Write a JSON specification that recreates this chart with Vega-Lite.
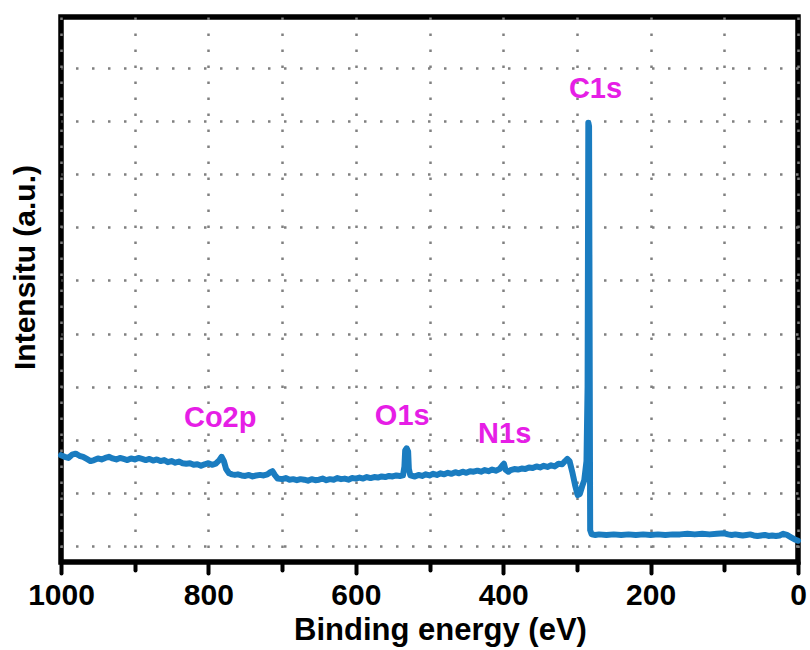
{
  "$schema": "https://vega.github.io/schema/vega-lite/v6.json",
  "width": 737,
  "height": 545,
  "autosize": {"type": "none"},
  "padding": {"left": 61, "top": 17, "right": 12, "bottom": 88},
  "background": "white",
  "config": {
    "view": {"stroke": "black", "strokeWidth": 5.5},
    "font": "Liberation Sans"
  },
  "datasets": {
    "spec": [
      {"e":1000,"i":1.71},{"e":995,"i":1.68},{"e":990,"i":1.66},{"e":985,"i":1.72},{"e":980,"i":1.74},{"e":975,"i":1.70},{"e":970,"i":1.68},{"e":965,"i":1.64},{"e":960,"i":1.60},{"e":955,"i":1.62},{"e":950,"i":1.65},{"e":945,"i":1.63},{"e":940,"i":1.66},{"e":935,"i":1.68},{"e":930,"i":1.65},{"e":925,"i":1.63},{"e":920,"i":1.66},{"e":915,"i":1.64},{"e":910,"i":1.62},{"e":905,"i":1.65},{"e":900,"i":1.63},{"e":895,"i":1.66},{"e":890,"i":1.64},{"e":885,"i":1.62},{"e":880,"i":1.64},{"e":875,"i":1.61},{"e":870,"i":1.63},{"e":865,"i":1.60},{"e":860,"i":1.62},{"e":855,"i":1.58},{"e":850,"i":1.60},{"e":845,"i":1.57},{"e":840,"i":1.59},{"e":835,"i":1.56},{"e":830,"i":1.55},{"e":825,"i":1.56},{"e":820,"i":1.53},{"e":815,"i":1.54},{"e":810,"i":1.51},{"e":805,"i":1.54},{"e":800,"i":1.56},{"e":795,"i":1.53},{"e":790,"i":1.55},{"e":785,"i":1.62},{"e":782,"i":1.68},{"e":779,"i":1.60},{"e":776,"i":1.45},{"e":772,"i":1.37},{"e":768,"i":1.35},{"e":764,"i":1.34},{"e":760,"i":1.35},{"e":755,"i":1.33},{"e":750,"i":1.32},{"e":745,"i":1.34},{"e":740,"i":1.31},{"e":735,"i":1.33},{"e":730,"i":1.34},{"e":725,"i":1.33},{"e":720,"i":1.35},{"e":716,"i":1.39},{"e":713,"i":1.41},{"e":710,"i":1.34},{"e":706,"i":1.27},{"e":700,"i":1.26},{"e":695,"i":1.28},{"e":690,"i":1.25},{"e":685,"i":1.26},{"e":680,"i":1.24},{"e":675,"i":1.26},{"e":670,"i":1.25},{"e":665,"i":1.23},{"e":660,"i":1.26},{"e":655,"i":1.24},{"e":650,"i":1.25},{"e":645,"i":1.27},{"e":640,"i":1.24},{"e":635,"i":1.26},{"e":630,"i":1.25},{"e":625,"i":1.28},{"e":620,"i":1.26},{"e":615,"i":1.27},{"e":610,"i":1.25},{"e":605,"i":1.28},{"e":600,"i":1.27},{"e":595,"i":1.29},{"e":590,"i":1.27},{"e":585,"i":1.30},{"e":580,"i":1.28},{"e":575,"i":1.30},{"e":570,"i":1.29},{"e":565,"i":1.31},{"e":560,"i":1.30},{"e":555,"i":1.32},{"e":550,"i":1.31},{"e":545,"i":1.33},{"e":540,"i":1.32},{"e":536,"i":1.33},{"e":534,"i":1.50},{"e":533,"i":1.80},{"e":531,"i":1.84},{"e":529,"i":1.78},{"e":528,"i":1.45},{"e":526,"i":1.33},{"e":520,"i":1.31},{"e":515,"i":1.34},{"e":510,"i":1.32},{"e":505,"i":1.35},{"e":500,"i":1.33},{"e":495,"i":1.36},{"e":490,"i":1.34},{"e":485,"i":1.37},{"e":480,"i":1.35},{"e":475,"i":1.38},{"e":470,"i":1.36},{"e":465,"i":1.39},{"e":460,"i":1.37},{"e":455,"i":1.40},{"e":450,"i":1.38},{"e":445,"i":1.41},{"e":440,"i":1.40},{"e":435,"i":1.42},{"e":430,"i":1.40},{"e":425,"i":1.43},{"e":420,"i":1.41},{"e":415,"i":1.44},{"e":410,"i":1.42},{"e":405,"i":1.45},{"e":401,"i":1.52},{"e":399,"i":1.55},{"e":397,"i":1.44},{"e":393,"i":1.40},{"e":390,"i":1.43},{"e":385,"i":1.45},{"e":380,"i":1.44},{"e":375,"i":1.46},{"e":370,"i":1.45},{"e":365,"i":1.48},{"e":360,"i":1.47},{"e":355,"i":1.50},{"e":350,"i":1.48},{"e":345,"i":1.51},{"e":340,"i":1.49},{"e":335,"i":1.52},{"e":330,"i":1.50},{"e":325,"i":1.55},{"e":320,"i":1.54},{"e":316,"i":1.60},{"e":313,"i":1.64},{"e":310,"i":1.60},{"e":306,"i":1.38},{"e":302,"i":1.12},{"e":299,"i":0.96},{"e":296,"i":0.98},{"e":293,"i":1.12},{"e":290,"i":1.24},{"e":287,"i":1.60},{"e":285.5,"i":3.0},{"e":284.5,"i":7.97},{"e":283.5,"i":7.9},{"e":282,"i":0.3},{"e":280,"i":0.22},{"e":275,"i":0.21},{"e":270,"i":0.22},{"e":260,"i":0.21},{"e":250,"i":0.22},{"e":240,"i":0.21},{"e":230,"i":0.22},{"e":220,"i":0.21},{"e":210,"i":0.22},{"e":200,"i":0.21},{"e":190,"i":0.22},{"e":180,"i":0.21},{"e":170,"i":0.22},{"e":160,"i":0.22},{"e":150,"i":0.23},{"e":140,"i":0.22},{"e":130,"i":0.23},{"e":120,"i":0.22},{"e":110,"i":0.23},{"e":100,"i":0.24},{"e":95,"i":0.22},{"e":90,"i":0.21},{"e":85,"i":0.22},{"e":80,"i":0.21},{"e":75,"i":0.20},{"e":70,"i":0.21},{"e":65,"i":0.22},{"e":60,"i":0.20},{"e":55,"i":0.19},{"e":50,"i":0.20},{"e":45,"i":0.21},{"e":40,"i":0.19},{"e":35,"i":0.20},{"e":30,"i":0.19},{"e":25,"i":0.20},{"e":20,"i":0.23},{"e":15,"i":0.21},{"e":10,"i":0.17},{"e":5,"i":0.13},{"e":0,"i":0.10}
    ],
    "labels": [
      {"e": 274.8, "i": 8.44, "label": "C1s"},
      {"e": 784, "i": 2.24, "label": "Co2p"},
      {"e": 537, "i": 2.28, "label": "O1s"},
      {"e": 398, "i": 1.94, "label": "N1s"}
    ]
  },
  "layer": [
    {
      "data": {"name": "spec"},
      "mark": {"type": "line", "color": "#1a7cc0", "strokeWidth": 6, "strokeJoin": "round", "strokeCap": "round"},
      "encoding": {
        "x": {
          "field": "e", "type": "quantitative",
          "scale": {"domain": [0, 1000], "reverse": true, "nice": false, "zero": false},
          "axis": {
            "title": "Binding energy (eV)",
            "titleFontSize": 31, "titleFontWeight": "bold", "titleColor": "black",
            "titleX": 379, "titleY": 77, "titleBaseline": "alphabetic", "titleAlign": "center",
            "values": [0,100,200,300,400,500,600,700,800,900,1000],
            "format": "d",
            "labelExpr": "datum.value % 200 == 0 ? datum.label : ''",
            "labelFontSize": 30, "labelFontWeight": "bold", "labelColor": "black",
            "labelOverlap": false, "labelFlush": false, "labelPadding": 7,
            "domain": false,
            "ticks": true, "tickColor": "black", "tickWidth": 4, "tickCap": "round",
            "tickSize": {"condition": {"test": "datum.value % 200 == 0", "value": 11}, "value": 8},
            "grid": true, "gridColor": "#808080", "gridWidth": 2.5, "gridDash": [2.5, 13.5]
          }
        },
        "y": {
          "field": "i", "type": "quantitative",
          "scale": {"domain": [-0.3, 9.96], "nice": false, "zero": false},
          "axis": {
            "title": "Intensitu (a.u.)",
            "titleFontSize": 30, "titleFontWeight": "bold", "titleColor": "black",
            "titleX": -36, "titleY": 250, "titleAngle": -90, "titleAlign": "center", "titleBaseline": "middle",
            "values": [0,1,2,3,4,5,6,7,8,9],
            "labels": false, "ticks": false, "domain": false,
            "grid": true, "gridColor": "#808080", "gridWidth": 2.5, "gridDash": [2.5, 13.5]
          }
        }
      }
    },
    {
      "data": {"name": "labels"},
      "mark": {"type": "text", "color": "#e61ee6", "fontSize": 29, "fontWeight": "bold", "font": "Liberation Sans", "align": "center", "baseline": "alphabetic"},
      "encoding": {
        "x": {"field": "e", "type": "quantitative"},
        "y": {"field": "i", "type": "quantitative"},
        "text": {"field": "label", "type": "nominal"}
      }
    }
  ]
}
